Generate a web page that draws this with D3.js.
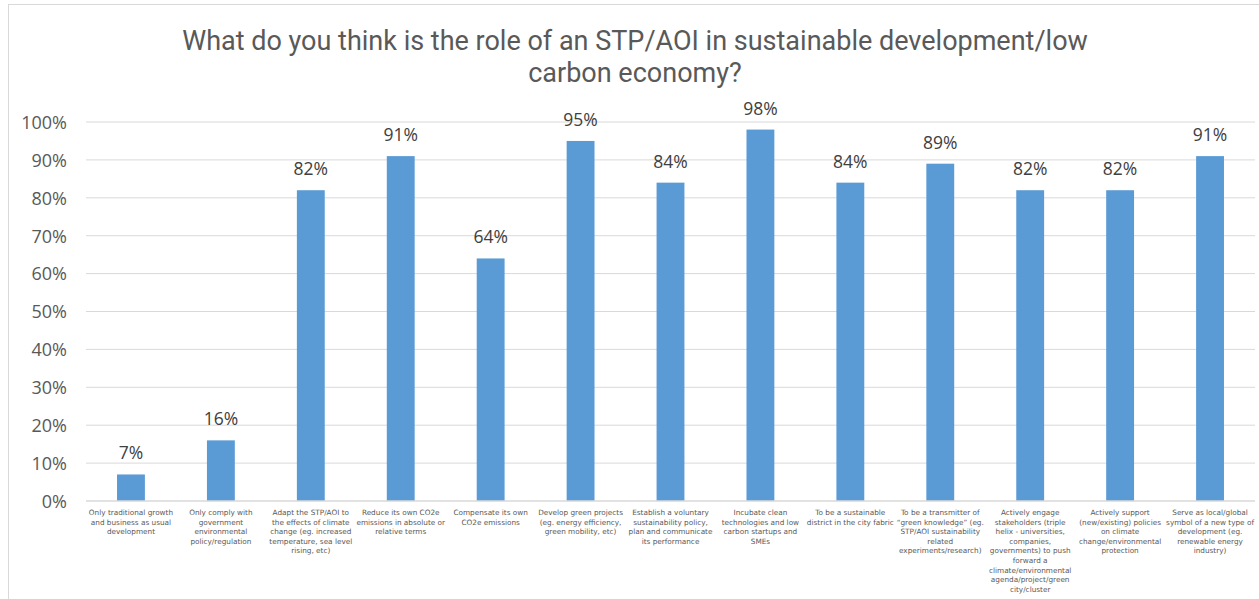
<!DOCTYPE html>
<html>
<head>
<meta charset="utf-8">
<script src="https://cdn.jsdelivr.net/npm/d3@7"></script>
<style>
  body { margin: 0; background: #fff; }
  svg { display: block; }
</style>
</head>
<body>
<svg id="chart" width="1259" height="599"></svg>
<script>
const titleLines = ["What do you think is the role of an STP/AOI in sustainable development/low", "carbon economy?"];
const categories = [
  "Only traditional growth\nand business as usual\ndevelopment",
  "Only comply with\ngovernment\nenvironmental\npolicy/regulation",
  "Adapt the STP/AOI to\nthe effects of climate\nchange (eg. increased\ntemperature, sea level\nrising, etc)",
  "Reduce its own CO2e\nemissions in absolute or\nrelative terms",
  "Compensate its own\nCO2e emissions",
  "Develop green projects\n(eg. energy efficiency,\ngreen mobility, etc)",
  "Establish a voluntary\nsustainability policy,\nplan and communicate\nits performance",
  "Incubate clean\ntechnologies and low\ncarbon startups and\nSMEs",
  "To be a sustainable\ndistrict in the city fabric",
  "To be a transmitter of\n\u201cgreen knowledge\u201d (eg.\nSTP/AOI sustainability\nrelated\nexperiments/research)",
  "Actively engage\nstakeholders (triple\nhelix - universities,\ncompanies,\ngovernments) to push\nforward a\nclimate/environmental\nagenda/project/green\ncity/cluster",
  "Actively support\n(new/existing) policies\non climate\nchange/environmental\nprotection",
  "Serve as local/global\nsymbol of a new type of\ndevelopment (eg.\nrenewable energy\nindustry)"
];
const values = [7, 16, 82, 91, 64, 95, 84, 98, 84, 89, 82, 82, 91];
const yTicks = [0, 10, 20, 30, 40, 50, 60, 70, 80, 90, 100];

const svg = d3.select("#chart");
const font = "'Open Sans', 'DejaVu Sans', sans-serif";
const M = { left: 86, right: 1255, top: 122, bottom: 501 };

// chart border
svg.append("rect").attr("x", 8.5).attr("y", 4.5).attr("width", 1270).attr("height", 620)
  .attr("fill", "none").attr("stroke", "#d9d9d9").attr("stroke-width", 1);

const x = d3.scaleBand().domain(d3.range(categories.length)).range([M.left, M.right]).paddingInner(0.69).paddingOuter(0.345);
const y = d3.scaleLinear().domain([0, 100]).range([M.bottom, M.top]);

// title (separate lines)
svg.append("g").selectAll("text").data(titleLines).join("text")
  .attr("x", 635).attr("y", (d, i) => 50 + i * 32).attr("text-anchor", "middle")
  .attr("font-family", "Roboto, 'Open Sans', sans-serif").attr("font-size", 27).attr("fill", "#595959")
  .text(d => d);

// gridlines
svg.append("g").selectAll("line").data(yTicks.filter(t => t > 0)).join("line")
  .attr("x1", M.left).attr("x2", M.right)
  .attr("y1", d => y(d)).attr("y2", d => y(d))
  .attr("stroke", "#d9d9d9").attr("stroke-width", 1);

// y axis labels
const yAxis = d3.axisLeft(y).tickValues(yTicks).tickFormat(d => d + "%").tickSize(0).tickPadding(0);
const ya = svg.append("g").attr("transform", `translate(67,0)`).call(yAxis);
ya.select(".domain").remove();
ya.selectAll("text").attr("font-family", font).attr("font-size", 18).attr("fill", "#595959").attr("dy", "0.35em");

// bars
svg.append("g").selectAll("rect").data(values).join("rect")
  .attr("x", (d, i) => x(i)).attr("width", x.bandwidth())
  .attr("y", d => y(d)).attr("height", d => y(0) - y(d))
  .attr("fill", "#5b9bd5");

// baseline
svg.append("line").attr("x1", M.left).attr("x2", M.right).attr("y1", y(0)).attr("y2", y(0))
  .attr("stroke", "#d9d9d9").attr("stroke-width", 1.5);

// data labels
svg.append("g").selectAll("text").data(values).join("text")
  .attr("x", (d, i) => x(i) + x.bandwidth() / 2).attr("y", d => y(d) - 15)
  .attr("text-anchor", "middle").attr("font-family", font).attr("font-size", 17.5).attr("fill", "#404040")
  .text(d => d + "%");

// category labels
const cg = svg.append("g");
categories.forEach((c, i) => {
  const t = cg.append("text").attr("text-anchor", "middle")
    .attr("font-family", "'DejaVu Sans', sans-serif").attr("font-size", 7.3).attr("fill", "#595959")
    .attr("y", 515);
  c.split("\n").forEach((line, j) => {
    t.append("tspan").attr("x", x(i) + x.bandwidth() / 2).attr("dy", j === 0 ? 0 : 9.6).text(line);
  });
});
</script>
</body>
</html>
